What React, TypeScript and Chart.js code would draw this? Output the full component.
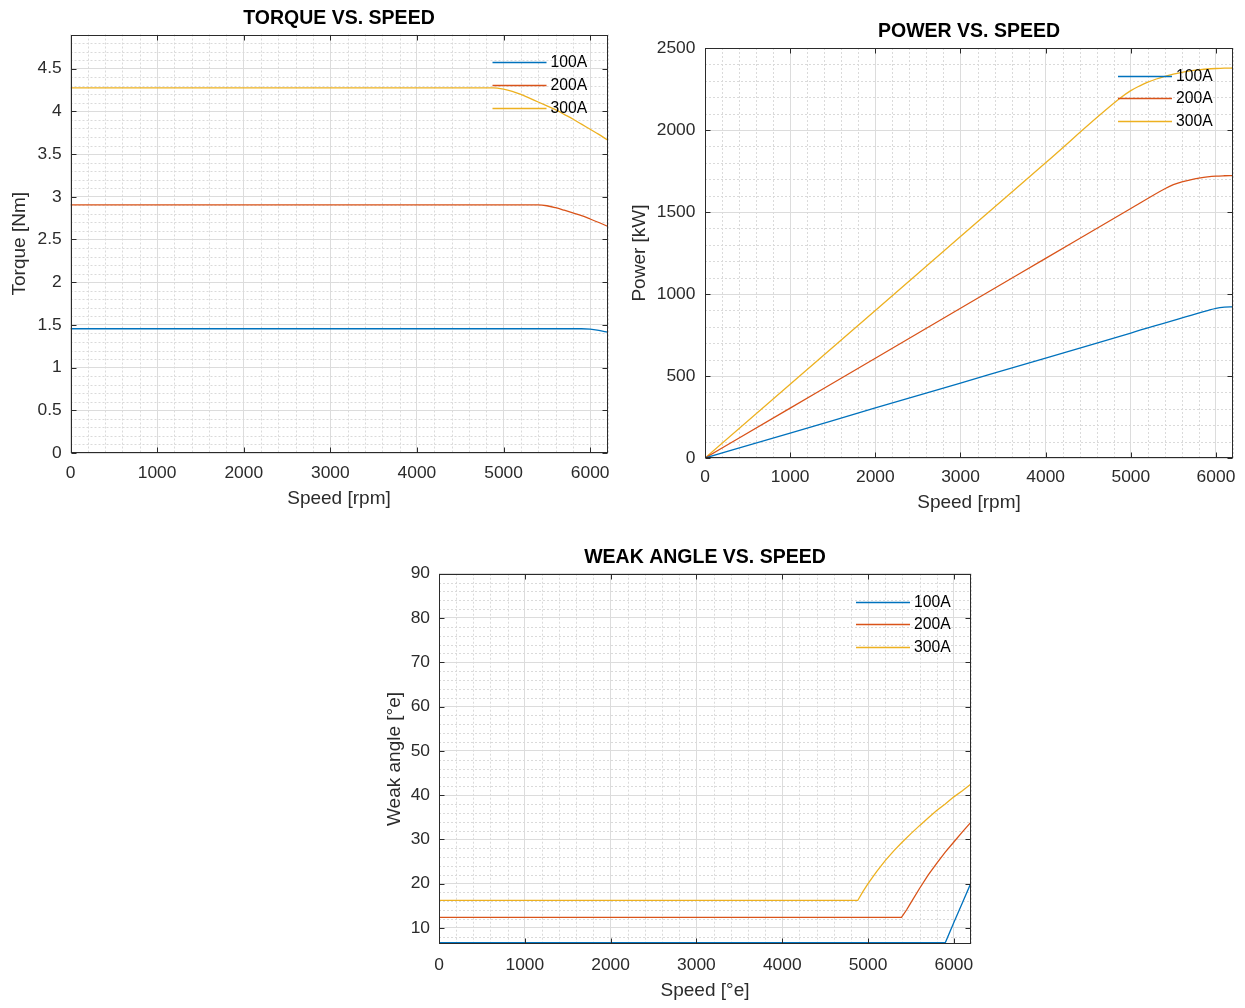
import React, { useEffect, useRef } from "react";
import { Chart, registerables } from "chart.js";

Chart.register(...registerables);

const FONT = '"Liberation Sans", Arial, Helvetica, sans-serif';

// ---------- data ----------
const seriesLabels = ["100A", "200A", "300A"];
const seriesColors = ["#0072BD", "#D95319", "#EDB120"];

const speedTicks = [0, 1000, 2000, 3000, 4000, 5000, 6000];
const torqueTicks = [0, 0.5, 1, 1.5, 2, 2.5, 3, 3.5, 4, 4.5];
const powerTicks = [0, 500, 1000, 1500, 2000, 2500];
const angleTicks = [10, 20, 30, 40, 50, 60, 70, 80, 90];

// Torque vs speed
const torqueSpeed100 = [0, 5900, 6000, 6100, 6200];
const torque100 = [1.455, 1.455, 1.45, 1.435, 1.415];
const torqueSpeed200 = [0, 5400, 5500, 5600, 5700, 5800, 5900, 6000, 6100, 6200];
const torque200 = [2.905, 2.905, 2.895, 2.872, 2.843, 2.812, 2.779, 2.74, 2.699, 2.655];
const torqueSpeed300 = [0, 4880, 5000, 5100, 5200, 5300, 5400, 5500, 5600, 5700, 5800, 5900, 6000, 6100, 6200];
const torque300 = [4.275, 4.275, 4.26, 4.235, 4.2, 4.155, 4.11, 4.065, 4.02, 3.965, 3.91, 3.85, 3.79, 3.73, 3.665];

// Power vs speed
const powerSpeed100 = [0, 1000, 2000, 3000, 4000, 5000, 5900, 6000, 6100, 6200];
const power100 = [0, 152, 305, 457, 609, 762, 899, 913, 920, 922];
const powerSpeed200 = [0, 1000, 2000, 3000, 4000, 5000, 5400, 5500, 5600, 5700, 5800, 5900, 6000, 6100, 6200];
const power200 = [0, 304, 608, 913, 1217, 1521, 1642, 1667, 1684, 1696, 1706, 1714, 1719, 1721, 1722];
const powerSpeed300 = [0, 1000, 2000, 3000, 4000, 4880, 5000, 5100, 5200, 5300, 5400, 5500, 5600, 5700, 5800, 5900, 6000, 6100, 6200];
const power300 = [0, 450, 900, 1350, 1800, 2196, 2240, 2268, 2292, 2311, 2327, 2341, 2352, 2361, 2367, 2372, 2375, 2377, 2378];

// Weak angle vs speed
const angleSpeed100 = [0, 5900, 6000, 6100, 6200];
const angle100 = [6.65, 6.65, 11.2, 15.7, 20.2];
const angleSpeed200 = [0, 5390, 5450, 5500, 5600, 5700, 5800, 5900, 6000, 6100, 6200];
const angle200 = [12.4, 12.4, 14.1, 15.7, 18.9, 21.9, 24.6, 27.1, 29.4, 31.7, 33.9];
const angleSpeed300 = [0, 4880, 4940, 5000, 5100, 5200, 5300, 5400, 5500, 5600, 5700, 5800, 5900, 6000, 6100, 6200];
const angle300 = [16.2, 16.2, 18.2, 20.0, 22.7, 25.2, 27.4, 29.4, 31.3, 33.1, 34.8, 36.5, 38.0, 39.6, 41.0, 42.5];

// ---------- helpers ----------
const toPoints = (xs: number[], ys: number[]) => xs.map((x, i) => ({ x, y: ys[i] }));

type PanelSpec = {
  title: string;
  xLabel: string;
  yLabel: string;
  box: [number, number, number, number];
  series: { x: number[]; y: number[] }[];
  smooth: boolean;
  xMin: number;
  xMax: number;
  yMin: number;
  yMax: number;
  xTicks: number[];
  yTicks: number[];
  xMinor: number;
  yMinor: number;
  yAxisWidth: number;
  xAxisHeight: number;
  padRight: number;
  titlePadTop: number;
  titlePadBottom: number;
  xTickPad: number;
  yTickPad: number;
  xTitlePadBottom: number;
  yTitlePadTop: number;
};

const TICK_COLOR = "#2b2b2b";

function isMajor(v: number, majors: number[]) {
  return majors.some((m) => Math.abs(m - v) < 1e-6);
}

function Panel({ spec }: { spec: PanelSpec }) {
  const ref = useRef<HTMLCanvasElement>(null);

  useEffect(() => {
    const canvas = ref.current;
    if (!canvas) return;

    const minorGrid = {
      id: "minorGrid",
      beforeDatasetsDraw(chart: any) {
        const { ctx, chartArea: a } = chart;
        const xs = chart.scales.x;
        const ys = chart.scales.y;
        ctx.save();
        ctx.strokeStyle = "#dadada";
        ctx.lineWidth = 1;
        ctx.setLineDash([2, 2]);
        const i0 = Math.ceil(spec.xMin / spec.xMinor - 1e-9);
        const i1 = Math.floor(spec.xMax / spec.xMinor + 1e-9);
        for (let i = i0; i <= i1; i++) {
          const v = i * spec.xMinor;
          if (isMajor(v, spec.xTicks)) continue;
          const px = Math.round(xs.getPixelForValue(v)) + 0.5;
          ctx.beginPath();
          ctx.moveTo(px, a.top);
          ctx.lineTo(px, a.bottom);
          ctx.stroke();
        }
        const j0 = Math.ceil(spec.yMin / spec.yMinor - 1e-9);
        const j1 = Math.floor(spec.yMax / spec.yMinor + 1e-9);
        for (let j = j0; j <= j1; j++) {
          const v = j * spec.yMinor;
          if (isMajor(v, spec.yTicks)) continue;
          const py = Math.round(ys.getPixelForValue(v)) + 0.5;
          ctx.beginPath();
          ctx.moveTo(a.left, py);
          ctx.lineTo(a.right, py);
          ctx.stroke();
        }
        ctx.restore();
      },
    };

    const frame = {
      id: "frame",
      afterDatasetsDraw(chart: any) {
        const { ctx, chartArea: a } = chart;
        const xs = chart.scales.x;
        const ys = chart.scales.y;
        const L = Math.round(a.left) + 0.5;
        const R = Math.round(a.right) - 0.5;
        const T = Math.round(a.top) + 0.5;
        const B = Math.round(a.bottom) - 0.5;
        ctx.save();
        ctx.strokeStyle = TICK_COLOR;
        ctx.lineWidth = 1;
        ctx.setLineDash([]);
        ctx.strokeRect(L, T, R - L, B - T);
        const tl = 5;
        ctx.beginPath();
        spec.xTicks.forEach((v) => {
          const px = Math.round(xs.getPixelForValue(v)) + 0.5;
          ctx.moveTo(px, B);
          ctx.lineTo(px, B - tl);
          ctx.moveTo(px, T);
          ctx.lineTo(px, T + tl);
        });
        spec.yTicks.forEach((v) => {
          const py = Math.round(ys.getPixelForValue(v)) + 0.5;
          ctx.moveTo(L, py);
          ctx.lineTo(L + tl, py);
          ctx.moveTo(R, py);
          ctx.lineTo(R - tl, py);
        });
        ctx.stroke();
        ctx.restore();
      },
    };

    const innerLegend = {
      id: "innerLegend",
      afterDatasetsDraw(chart: any) {
        const { ctx, chartArea: a } = chart;
        ctx.save();
        ctx.font = `15.7px ${FONT}`;
        ctx.textBaseline = "middle";
        ctx.textAlign = "left";
        seriesLabels.forEach((lab, i) => {
          const y = Math.round(a.top + 27.8 + 22.6 * i) + 0.5;
          ctx.strokeStyle = seriesColors[i];
          ctx.lineWidth = 1.3;
          ctx.beginPath();
          ctx.moveTo(a.right - 115, y);
          ctx.lineTo(a.right - 61, y);
          ctx.stroke();
          ctx.fillStyle = "#000000";
          ctx.fillText(lab, a.right - 57, y);
        });
        ctx.restore();
      },
    };

    const tickFont = { family: FONT, size: 17.4, lineHeight: 1.2 };
    const labelFont = { family: FONT, size: 19, lineHeight: 1.2 };

    const chart = new Chart(canvas, {
      type: "line",
      data: {
        datasets: spec.series.map((s, i) => ({
          label: seriesLabels[i],
          data: toPoints(s.x, s.y),
          borderColor: seriesColors[i],
          backgroundColor: seriesColors[i],
          borderWidth: 1.3,
          pointRadius: 0,
          tension: 0,
          cubicInterpolationMode: spec.smooth ? "monotone" : "default",
          fill: false,
        })),
      },
      options: {
        animation: false,
        responsive: false,
        events: [],
        layout: { padding: { left: 0, right: spec.padRight, top: 0, bottom: 0 } },
        plugins: {
          legend: { display: false },
          tooltip: { enabled: false },
          title: {
            display: true,
            text: spec.title,
            fullSize: false,
            color: "#000000",
            font: { family: FONT, size: 19.5, weight: "bold", lineHeight: 1.2 },
            padding: { top: spec.titlePadTop - 0.3, bottom: spec.titlePadBottom - 0.3 },
          },
        },
        scales: {
          x: {
            type: "linear",
            min: spec.xMin,
            max: spec.xMax,
            afterBuildTicks: (s: any) => {
              s.ticks = spec.xTicks.map((v) => ({ value: v }));
            },
            afterFit: (s: any) => {
              s.height = spec.xAxisHeight;
            },
            grid: { color: "#dcdcdc", lineWidth: 1, drawTicks: false },
            border: { display: false },
            ticks: {
              color: TICK_COLOR,
              font: tickFont,
              padding: spec.xTickPad,
              maxRotation: 0,
              autoSkip: false,
              callback: (v: any) => String(v),
            },
            title: {
              display: true,
              text: spec.xLabel,
              color: TICK_COLOR,
              font: labelFont,
              padding: { top: 0, bottom: spec.xTitlePadBottom },
            },
          },
          y: {
            type: "linear",
            min: spec.yMin,
            max: spec.yMax,
            afterBuildTicks: (s: any) => {
              s.ticks = spec.yTicks.map((v) => ({ value: v }));
            },
            afterFit: (s: any) => {
              s.width = spec.yAxisWidth;
            },
            grid: { color: "#dcdcdc", lineWidth: 1, drawTicks: false },
            border: { display: false },
            ticks: {
              color: TICK_COLOR,
              font: tickFont,
              padding: spec.yTickPad,
              autoSkip: false,
              callback: (v: any) => String(v),
            },
            title: {
              display: true,
              text: spec.yLabel,
              color: TICK_COLOR,
              font: labelFont,
              padding: { top: spec.yTitlePadTop, bottom: 0 },
            },
          },
        },
      },
      plugins: [minorGrid, frame, innerLegend],
    } as any);

    return () => chart.destroy();
  }, [spec]);

  const [left, top, w, h] = spec.box;
  return (
    <div style={{ position: "absolute", left, top, width: w, height: h }}>
      <canvas ref={ref} width={w} height={h} style={{ width: w, height: h, display: "block" }} />
    </div>
  );
}

const torqueSpec: PanelSpec = {
  title: "TORQUE VS. SPEED",
  xLabel: "Speed [rpm]",
  yLabel: "Torque [Nm]",
  box: [0, 0, 622, 520],
  series: [
    { x: torqueSpeed100, y: torque100 },
    { x: torqueSpeed200, y: torque200 },
    { x: torqueSpeed300, y: torque300 },
  ],
  smooth: true,
  xMin: 0,
  xMax: 6200,
  yMin: 0,
  yMax: 4.9,
  xTicks: speedTicks,
  yTicks: torqueTicks,
  xMinor: 200,
  yMinor: 0.1,
  yAxisWidth: 70.5,
  xAxisHeight: 67,
  padRight: 14.5,
  titlePadTop: 7.3,
  titlePadBottom: 4.4,
  xTickPad: 9.6,
  yTickPad: 8.8,
  xTitlePadBottom: 9.6,
  yTitlePadTop: 8.6,
};

const powerSpec: PanelSpec = {
  title: "POWER VS. SPEED",
  xLabel: "Speed [rpm]",
  yLabel: "Power [kW]",
  box: [622, 0, 623, 520],
  series: [
    { x: powerSpeed100, y: power100 },
    { x: powerSpeed200, y: power200 },
    { x: powerSpeed300, y: power300 },
  ],
  smooth: true,
  xMin: 0,
  xMax: 6200,
  yMin: 0,
  yMax: 2500,
  xTicks: speedTicks,
  yTicks: powerTicks,
  xMinor: 200,
  yMinor: 100,
  yAxisWidth: 83,
  xAxisHeight: 62,
  padRight: 12,
  titlePadTop: 20.6,
  titlePadBottom: 4.6,
  xTickPad: 8.9,
  yTickPad: 9.6,
  xTitlePadBottom: 5.9,
  yTitlePadTop: 6.6,
};

const angleSpec: PanelSpec = {
  title: "WEAK ANGLE VS. SPEED",
  xLabel: "Speed [°e]",
  yLabel: "Weak angle [°e]",
  box: [380, 540, 620, 468],
  series: [
    { x: angleSpeed100, y: angle100 },
    { x: angleSpeed200, y: angle200 },
    { x: angleSpeed300, y: angle300 },
  ],
  smooth: false,
  xMin: 0,
  xMax: 6200,
  yMin: 6.3,
  yMax: 90,
  xTicks: speedTicks,
  yTicks: angleTicks,
  xMinor: 200,
  yMinor: 2,
  yAxisWidth: 59,
  xAxisHeight: 63.7,
  padRight: 29,
  titlePadTop: 6.4,
  titlePadBottom: 4.5,
  xTickPad: 10.3,
  yTickPad: 9,
  xTitlePadBottom: 5.9,
  yTitlePadTop: 3,
};

export default function App() {
  return (
    <div
      style={{
        position: "absolute",
        left: 0,
        top: 0,
        width: 1245,
        height: 1008,
        background: "#ffffff",
        overflow: "hidden",
      }}
    >
      <Panel spec={torqueSpec} />
      <Panel spec={powerSpec} />
      <Panel spec={angleSpec} />
    </div>
  );
}
